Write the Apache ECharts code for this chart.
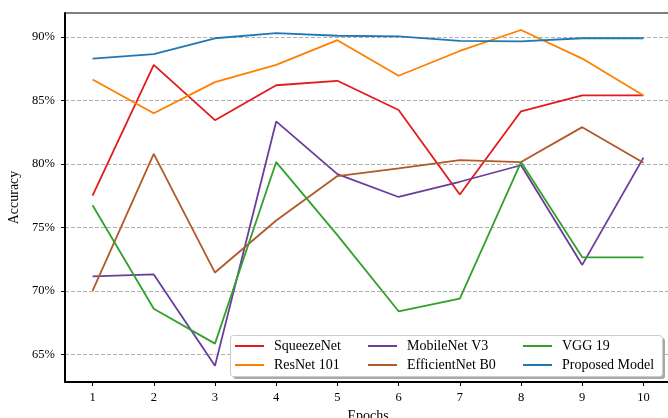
<!DOCTYPE html>
<html>
<head>
<meta charset="utf-8">
<script src="https://cdn.jsdelivr.net/npm/echarts@6/dist/echarts.min.js"></script>
<style>
html,body{margin:0;padding:0;background:#fff;}
#chart{width:668px;height:418px;}
</style>
</head>
<body>
<div id="chart"></div>
<script>
// ---- Data ----
const epochs = [1, 2, 3, 4, 5, 6, 7, 8, 9, 10];
const yTicks = [65, 70, 75, 80, 85, 90];
const squeezeNet   = [77.5, 87.8, 83.45, 86.2, 86.55, 84.25, 77.6, 84.15, 85.4, 85.4];
const resNet101    = [86.65, 84.0, 86.45, 87.8, 89.75, 86.95, 88.9, 90.55, 88.3, 85.4];
const mobileNetV3  = [71.15, 71.3, 64.1, 83.35, 79.2, 77.4, 78.6, 79.9, 72.05, 80.5];
const efficientB0  = [70.0, 80.8, 71.45, 75.55, 79.05, 79.65, 80.3, 80.15, 82.9, 80.1];
const vgg19        = [76.75, 68.6, 65.85, 80.15, 74.4, 68.4, 69.4, 80.15, 72.65, 72.65];
const proposed     = [88.3, 88.65, 89.9, 90.3, 90.1, 90.05, 89.7, 89.65, 89.9, 89.9];

const seriesDefs = [
  {name: 'SqueezeNet', data: squeezeNet, color: '#e31a1c'},
  {name: 'ResNet 101', data: resNet101, color: '#ff7f00'},
  {name: 'MobileNet V3', data: mobileNetV3, color: '#6a3d9a'},
  {name: 'EfficientNet B0', data: efficientB0, color: '#b15928'},
  {name: 'VGG 19', data: vgg19, color: '#33a02c'},
  {name: 'Proposed Model', data: proposed, color: '#1f78b4'}
];

const FONT = '"Liberation Serif", "DejaVu Serif", serif';
const chart = echarts.init(document.getElementById('chart'), null, {renderer: 'canvas'});

function legendCol(names, left) {
  return {
    data: names,
    orient: 'vertical',
    left: left,
    top: 339,
    icon: 'rect',
    itemWidth: 29,
    itemHeight: 2,
    itemGap: 5,
    padding: 0,
    z: 10,
    textStyle: {fontFamily: FONT, fontSize: 14, lineHeight: 14, color: '#000', padding: [0, 0, 0, 5]}
  };
}

const option = {
  animation: false,
  backgroundColor: '#fff',
  grid: {left: 65, right: -3, top: 13, bottom: 36, outerBoundsMode: 'none', containLabel: false,
    show: true, borderColor: '#000', borderWidth: 1},
  xAxis: {
    type: 'value',
    min: 0.55,
    max: 10.45,
    name: 'Epochs',
    nameLocation: 'middle',
    nameGap: 27,
    nameTextStyle: {fontFamily: FONT, fontSize: 14, color: '#000'},
    axisLine: {show: true, lineStyle: {color: '#000', width: 2}},
    axisTick: {show: true, inside: false, length: 4, lineStyle: {color: '#000', width: 1}, customValues: epochs},
    axisLabel: {fontFamily: FONT, fontSize: 12.5, color: '#000', margin: 9, customValues: epochs},
    splitLine: {show: false}
  },
  yAxis: {
    type: 'value',
    min: 62.83,
    max: 91.89,
    interval: 5,
    name: 'Accuracy',
    nameLocation: 'middle',
    nameGap: 37,
    nameRotate: 90,
    nameTextStyle: {fontFamily: FONT, fontSize: 14, color: '#000'},
    axisLine: {show: true, lineStyle: {color: '#000', width: 2}},
    axisTick: {show: true, inside: false, length: 4, lineStyle: {color: '#000', width: 1}, customValues: yTicks},
    axisLabel: {fontFamily: FONT, fontSize: 12.5, color: '#000', margin: 10, customValues: yTicks,
      formatter: v => v + '%'},
    splitLine: {show: true, lineStyle: {color: '#b0b0b0', width: 1, type: [4, 2]}}
  },
  legend: [
    legendCol(['SqueezeNet', 'ResNet 101'], 235),
    legendCol(['MobileNet V3', 'EfficientNet B0'], 368),
    legendCol(['VGG 19', 'Proposed Model'], 523)
  ],
  graphic: [
    {type: 'rect', z: 8, shape: {x: 233, y: 338, width: 432, height: 41, r: 3}, style: {fill: '#a9a9a9'}},
    {type: 'rect', z: 9, shape: {x: 230.5, y: 335.5, width: 432, height: 41, r: 3}, style: {fill: '#fff', stroke: '#cccccc', lineWidth: 1}}
  ],
  series: seriesDefs.map(s => ({
    name: s.name,
    type: 'line',
    data: epochs.map((e, i) => [e, s.data[i]]),
    symbol: 'none',
    color: s.color,
    lineStyle: {width: 1.8, color: s.color},
    itemStyle: {color: s.color}
  }))
};
chart.setOption(option);
</script>
</body>
</html>
